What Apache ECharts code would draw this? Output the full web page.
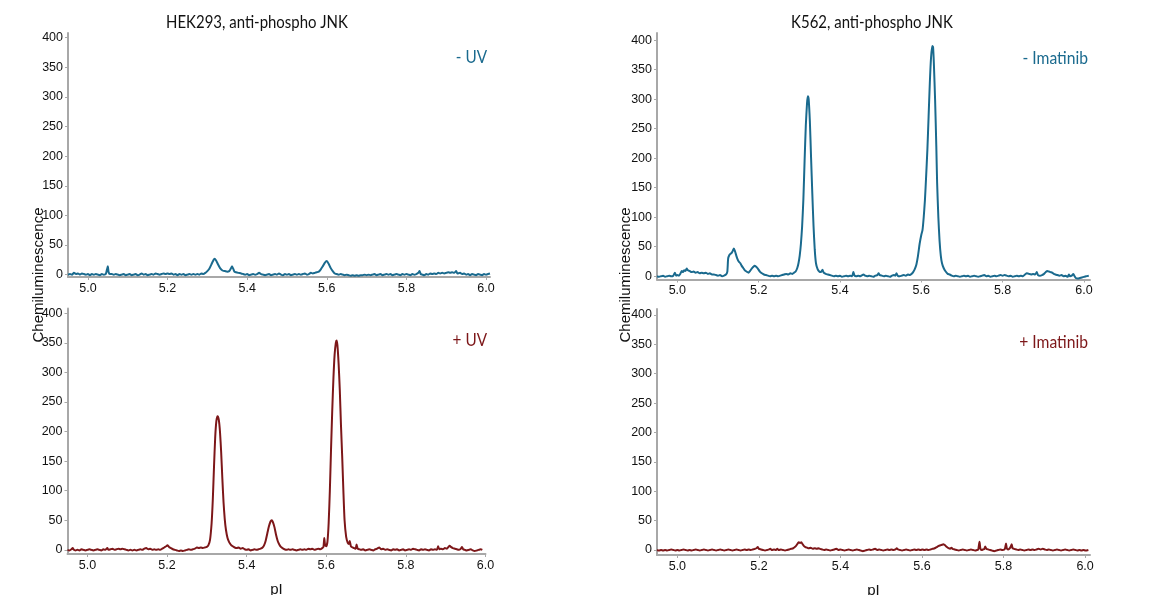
<!DOCTYPE html>
<html>
<head>
<meta charset="utf-8">
<script src="https://cdn.jsdelivr.net/npm/echarts@6/dist/echarts.min.js"></script>
<style>
  html, body { margin: 0; padding: 0; background: #fff; }
  #chart { width: 1173px; height: 595px; }
</style>
</head>
<body>
<div id="chart"></div>
<script>
// Capillary isoelectric focusing traces: [pI, chemiluminescence]
const hekMinusUV = [
  [4.950,0],[4.955,1],[4.960,0],[4.965,3],[4.970,1],[4.975,2],[4.980,0],[4.985,2],[4.990,1],[4.995,0],
  [5.000,1],[5.005,-1],[5.010,1],[5.015,0],[5.020,1],[5.025,0],[5.030,-1],[5.035,1],[5.040,0],[5.045,1],
  [5.048,9],[5.050,14],[5.052,4],[5.055,1],[5.060,1],[5.065,0],[5.070,1],[5.075,0],[5.080,-1],[5.085,0],
  [5.090,1],[5.095,-1],[5.100,0],[5.105,1],[5.110,-1],[5.115,0],[5.120,1],[5.125,-1],[5.130,0],[5.135,2],
  [5.140,0],[5.145,1],[5.150,-1],[5.155,0],[5.160,1],[5.165,0],[5.170,2],[5.175,1],[5.180,0],[5.185,1],
  [5.190,2],[5.195,1],[5.200,2],[5.205,1],[5.210,2],[5.215,0],[5.220,1],[5.225,-1],[5.230,1],[5.235,0],
  [5.240,1],[5.245,-1],[5.250,0],[5.255,1],[5.260,0],[5.265,1],[5.270,0],[5.275,1],[5.280,0],[5.285,2],
  [5.290,1],[5.295,3],[5.300,6],[5.305,10],[5.310,17],[5.315,24],[5.318,27],[5.322,24],[5.327,17],[5.332,11],
  [5.338,7],[5.344,6],[5.350,5],[5.355,6],[5.358,9],[5.362,14],[5.365,10],[5.368,5],[5.372,4],[5.378,3],
  [5.385,2],[5.390,1],[5.395,0],[5.400,1],[5.405,-1],[5.410,0],[5.415,1],[5.420,0],[5.425,1],[5.430,3],
  [5.435,1],[5.440,0],[5.445,-1],[5.450,0],[5.455,1],[5.460,-1],[5.465,0],[5.470,1],[5.475,0],[5.480,2],
  [5.485,0],[5.490,-1],[5.495,1],[5.500,0],[5.505,1],[5.510,-1],[5.515,0],[5.520,1],[5.525,0],[5.530,1],
  [5.535,0],[5.540,1],[5.545,2],[5.550,0],[5.555,1],[5.560,3],[5.565,2],[5.570,3],[5.575,4],[5.580,5],
  [5.585,9],[5.590,14],[5.595,20],[5.600,23],[5.605,18],[5.610,11],[5.615,6],[5.620,2],[5.625,1],[5.630,0],
  [5.635,1],[5.640,0],[5.645,-1],[5.650,0],[5.655,-1],[5.660,-2],[5.665,-1],[5.670,-2],[5.675,-1],[5.680,-2],
  [5.685,-1],[5.690,-1],[5.695,0],[5.700,-1],[5.705,0],[5.710,-1],[5.715,0],[5.720,1],[5.725,-1],[5.730,0],
  [5.735,1],[5.740,-1],[5.745,0],[5.750,1],[5.755,0],[5.760,1],[5.765,-1],[5.770,0],[5.775,1],[5.780,0],
  [5.785,-1],[5.790,1],[5.795,0],[5.800,1],[5.805,0],[5.810,-1],[5.815,1],[5.820,0],[5.825,1],[5.830,3],
  [5.833,6],[5.836,1],[5.840,0],[5.845,-1],[5.850,1],[5.855,0],[5.860,2],[5.865,1],[5.870,2],[5.875,1],
  [5.880,3],[5.885,2],[5.890,3],[5.895,2],[5.900,3],[5.905,4],[5.910,3],[5.915,4],[5.920,3],[5.925,6],
  [5.928,2],[5.935,3],[5.940,1],[5.945,2],[5.950,0],[5.955,1],[5.960,-1],[5.965,1],[5.970,0],[5.975,-1],
  [5.980,1],[5.985,0],[5.990,-1],[5.995,1],[6.000,0],[6.005,1],[6.010,2]
];

const hekPlusUV = [
  [4.950,0],[4.955,-1],[4.960,1],[4.963,3],[4.966,0],[4.970,-1],[4.975,0],[4.980,-1],[4.985,1],[4.990,0],
  [4.995,-1],[5.000,0],[5.005,1],[5.010,0],[5.015,-1],[5.020,0],[5.025,1],[5.030,0],[5.035,-1],[5.040,1],
  [5.045,0],[5.050,3],[5.053,0],[5.058,1],[5.063,2],[5.068,0],[5.073,1],[5.078,2],[5.083,1],[5.088,2],
  [5.093,1],[5.098,0],[5.103,-1],[5.108,0],[5.113,-1],[5.118,0],[5.123,-1],[5.128,0],[5.133,1],[5.138,0],
  [5.143,2],[5.148,3],[5.153,1],[5.158,2],[5.163,0],[5.168,1],[5.173,0],[5.178,1],[5.183,0],[5.188,2],
  [5.193,4],[5.198,6],[5.201,8],[5.205,5],[5.210,3],[5.215,1],[5.220,0],[5.225,-1],[5.230,-2],[5.235,-1],
  [5.240,-2],[5.245,-1],[5.250,0],[5.255,1],[5.260,0],[5.265,1],[5.270,2],[5.275,4],[5.280,3],[5.285,4],
  [5.290,3],[5.295,4],[5.300,5],[5.304,8],[5.308,17],[5.312,45],[5.315,85],[5.318,140],[5.321,190],[5.324,218],
  [5.327,226],[5.330,220],[5.333,200],[5.336,165],[5.339,120],[5.342,80],[5.345,52],[5.348,34],[5.352,20],[5.356,13],
  [5.360,9],[5.365,6],[5.370,4],[5.375,3],[5.380,4],[5.385,2],[5.390,3],[5.395,1],[5.400,0],[5.405,1],
  [5.410,-1],[5.415,0],[5.420,1],[5.425,0],[5.430,1],[5.435,2],[5.440,4],[5.444,8],[5.448,16],[5.452,28],
  [5.456,40],[5.460,48],[5.463,50],[5.466,47],[5.470,38],[5.474,25],[5.478,15],[5.482,9],[5.486,5],[5.490,3],
  [5.495,1],[5.500,0],[5.505,1],[5.510,0],[5.515,1],[5.520,0],[5.525,-1],[5.530,0],[5.535,1],[5.540,0],
  [5.545,1],[5.550,0],[5.555,2],[5.560,1],[5.565,2],[5.570,0],[5.575,1],[5.580,2],[5.585,1],[5.590,3],
  [5.593,5],[5.595,20],[5.597,8],[5.600,6],[5.603,14],[5.606,45],[5.609,100],[5.612,170],[5.615,235],[5.618,290],
  [5.621,330],[5.624,350],[5.626,354],[5.628,346],[5.631,315],[5.634,270],[5.637,210],[5.640,158],[5.643,100],[5.646,50],
  [5.650,22],[5.654,12],[5.657,10],[5.659,15],[5.662,6],[5.666,4],[5.670,3],[5.674,2],[5.676,9],[5.679,2],
  [5.683,1],[5.688,0],[5.693,1],[5.698,-1],[5.703,0],[5.708,1],[5.713,0],[5.718,-1],[5.723,1],[5.728,2],
  [5.733,4],[5.738,1],[5.743,2],[5.748,0],[5.753,1],[5.758,0],[5.763,-1],[5.768,1],[5.773,0],[5.778,1],
  [5.783,-1],[5.788,0],[5.793,1],[5.798,-1],[5.803,0],[5.808,1],[5.813,0],[5.818,2],[5.823,1],[5.828,0],
  [5.833,-1],[5.838,1],[5.843,0],[5.848,1],[5.853,0],[5.858,-1],[5.863,1],[5.868,0],[5.873,1],[5.878,0],
  [5.881,6],[5.884,1],[5.888,2],[5.893,1],[5.898,3],[5.903,2],[5.907,5],[5.910,7],[5.913,5],[5.918,3],
  [5.923,2],[5.928,1],[5.933,0],[5.938,2],[5.941,5],[5.944,1],[5.948,0],[5.953,-1],[5.958,0],[5.963,1],
  [5.968,-1],[5.973,-2],[5.978,-1],[5.983,0],[5.988,1],[5.992,0]
];

const k562MinusImatinib = [
  [4.950,0],[4.955,-1],[4.960,0],[4.965,1],[4.970,-1],[4.975,0],[4.980,1],[4.985,0],[4.990,1],[4.994,6],
  [4.997,1],[5.000,2],[5.004,1],[5.008,5],[5.011,9],[5.014,7],[5.017,10],[5.020,9],[5.023,13],[5.026,10],
  [5.030,9],[5.035,7],[5.040,8],[5.045,6],[5.050,7],[5.055,5],[5.060,6],[5.065,5],[5.070,6],[5.075,4],
  [5.080,5],[5.085,3],[5.090,3],[5.095,2],[5.100,1],[5.105,2],[5.110,0],[5.115,1],[5.120,3],[5.123,8],
  [5.125,30],[5.128,36],[5.131,38],[5.134,40],[5.137,44],[5.139,47],[5.142,42],[5.145,35],[5.148,29],[5.151,25],
  [5.155,22],[5.158,18],[5.162,14],[5.166,10],[5.170,8],[5.175,6],[5.179,9],[5.183,13],[5.187,16],[5.190,18],
  [5.194,16],[5.198,13],[5.203,8],[5.208,5],[5.213,3],[5.218,2],[5.223,1],[5.228,0],[5.233,1],[5.238,0],
  [5.243,1],[5.248,0],[5.253,1],[5.258,2],[5.263,3],[5.268,4],[5.273,3],[5.278,5],[5.283,4],[5.287,6],
  [5.291,8],[5.295,14],[5.298,22],[5.301,35],[5.304,55],[5.307,85],[5.310,130],[5.313,195],[5.316,255],[5.319,293],
  [5.321,305],[5.323,300],[5.326,262],[5.329,200],[5.332,140],[5.335,85],[5.338,45],[5.341,22],[5.345,12],[5.349,8],
  [5.353,7],[5.357,11],[5.360,6],[5.365,4],[5.370,3],[5.375,2],[5.380,1],[5.385,0],[5.390,1],[5.395,0],
  [5.400,1],[5.405,-1],[5.410,0],[5.415,1],[5.420,0],[5.425,1],[5.430,0],[5.433,7],[5.436,1],[5.440,0],
  [5.445,1],[5.450,0],[5.455,2],[5.458,3],[5.462,1],[5.467,0],[5.472,1],[5.477,0],[5.482,-1],[5.487,1],
  [5.492,2],[5.495,5],[5.498,2],[5.503,1],[5.508,0],[5.513,1],[5.518,0],[5.523,-1],[5.528,1],[5.533,2],
  [5.536,1],[5.539,5],[5.542,1],[5.547,0],[5.552,1],[5.557,2],[5.562,1],[5.567,3],[5.572,2],[5.576,4],
  [5.580,7],[5.584,12],[5.588,20],[5.592,35],[5.596,55],[5.600,70],[5.603,78],[5.606,100],[5.609,129],[5.612,170],
  [5.615,214],[5.618,270],[5.621,327],[5.624,370],[5.627,390],[5.629,388],[5.631,360],[5.634,299],[5.637,220],[5.639,158],
  [5.642,100],[5.645,60],[5.648,35],[5.651,22],[5.655,14],[5.660,8],[5.665,4],[5.670,3],[5.675,1],[5.680,0],
  [5.685,1],[5.690,0],[5.695,-1],[5.700,0],[5.705,1],[5.710,0],[5.715,1],[5.720,-1],[5.725,0],[5.730,1],
  [5.735,0],[5.740,-1],[5.745,0],[5.750,1],[5.755,2],[5.760,0],[5.765,1],[5.770,-1],[5.775,0],[5.780,1],
  [5.785,0],[5.790,1],[5.795,2],[5.800,1],[5.805,2],[5.810,1],[5.815,0],[5.820,1],[5.825,-1],[5.830,0],
  [5.835,1],[5.840,0],[5.845,1],[5.850,0],[5.855,3],[5.860,5],[5.865,4],[5.870,3],[5.875,4],[5.880,3],
  [5.884,7],[5.887,2],[5.892,1],[5.897,2],[5.902,4],[5.906,7],[5.910,9],[5.914,8],[5.918,7],[5.922,6],
  [5.926,4],[5.930,3],[5.935,2],[5.940,1],[5.945,2],[5.950,0],[5.955,1],[5.960,-1],[5.963,3],[5.966,0],
  [5.970,1],[5.974,4],[5.977,0],[5.980,-3],[5.985,-4],[5.990,-3],[5.995,-2],[6.000,-1],[6.005,0],[6.012,1]
];

const k562PlusImatinib = [
  [4.950,0],[4.955,-1],[4.960,0],[4.965,-1],[4.970,0],[4.975,-1],[4.980,0],[4.985,1],[4.990,0],[4.995,-1],
  [5.000,0],[5.005,-1],[5.010,0],[5.015,1],[5.020,0],[5.025,-1],[5.030,0],[5.035,-1],[5.040,0],[5.045,1],
  [5.050,0],[5.055,-1],[5.060,0],[5.065,1],[5.070,0],[5.075,-1],[5.080,0],[5.085,1],[5.090,0],[5.095,-1],
  [5.100,0],[5.105,1],[5.110,0],[5.115,-1],[5.120,0],[5.125,1],[5.130,0],[5.135,-1],[5.140,0],[5.145,1],
  [5.150,0],[5.155,-1],[5.160,0],[5.165,1],[5.170,0],[5.175,1],[5.180,0],[5.185,1],[5.190,2],[5.194,3],
  [5.197,5],[5.200,2],[5.205,1],[5.210,0],[5.215,-1],[5.220,0],[5.225,1],[5.228,2],[5.232,0],[5.237,1],
  [5.242,0],[5.245,2],[5.249,0],[5.254,1],[5.259,0],[5.264,-1],[5.269,0],[5.274,1],[5.279,2],[5.284,3],
  [5.288,5],[5.292,8],[5.295,11],[5.298,13],[5.301,12],[5.304,13],[5.307,10],[5.310,7],[5.314,5],[5.318,4],
  [5.322,3],[5.327,4],[5.332,2],[5.337,3],[5.342,2],[5.346,3],[5.350,2],[5.355,1],[5.360,0],[5.365,1],
  [5.370,0],[5.375,-1],[5.380,0],[5.385,1],[5.390,2],[5.395,0],[5.400,1],[5.405,0],[5.410,-1],[5.415,0],
  [5.420,1],[5.425,0],[5.430,-1],[5.435,0],[5.440,1],[5.445,0],[5.450,-1],[5.455,-2],[5.460,-1],[5.465,0],
  [5.470,1],[5.475,0],[5.480,1],[5.485,2],[5.490,0],[5.495,1],[5.500,0],[5.505,-1],[5.510,0],[5.515,1],
  [5.520,0],[5.525,1],[5.530,0],[5.535,1],[5.538,3],[5.541,1],[5.546,0],[5.551,-1],[5.556,0],[5.561,1],
  [5.566,0],[5.571,-1],[5.576,0],[5.581,1],[5.586,0],[5.591,1],[5.596,0],[5.601,1],[5.606,0],[5.611,1],
  [5.616,0],[5.621,1],[5.626,2],[5.631,3],[5.636,5],[5.641,7],[5.645,8],[5.649,9],[5.652,10],[5.655,9],
  [5.658,7],[5.661,5],[5.665,3],[5.669,2],[5.672,4],[5.675,2],[5.680,1],[5.685,0],[5.690,-1],[5.695,0],
  [5.700,1],[5.705,0],[5.710,-1],[5.715,0],[5.720,1],[5.725,0],[5.730,-1],[5.735,0],[5.738,1],[5.741,14],
  [5.743,3],[5.746,0],[5.750,1],[5.753,2],[5.755,6],[5.758,2],[5.762,1],[5.767,0],[5.772,-1],[5.777,-2],
  [5.782,-1],[5.787,0],[5.792,1],[5.797,0],[5.802,1],[5.804,4],[5.806,11],[5.808,3],[5.811,1],[5.814,2],
  [5.817,5],[5.820,10],[5.822,3],[5.826,2],[5.831,1],[5.836,0],[5.841,1],[5.846,0],[5.851,-1],[5.856,0],
  [5.861,1],[5.866,0],[5.871,1],[5.876,0],[5.881,1],[5.886,2],[5.891,1],[5.896,2],[5.901,1],[5.906,0],
  [5.911,1],[5.916,0],[5.921,-1],[5.926,0],[5.931,1],[5.936,0],[5.941,-1],[5.946,0],[5.951,1],[5.956,0],
  [5.961,-1],[5.966,0],[5.971,1],[5.976,0],[5.981,-1],[5.986,0],[5.991,-1],[5.996,0],[6.001,-1],[6.008,0]
];

// Tick labels
const yTicks = [0, 50, 100, 150, 200, 250, 300, 350, 400];
const xTicks = [5.0, 5.2, 5.4, 5.6, 5.8, 6.0];

const panelTitles = ['HEK293, anti-phospho JNK', 'K562, anti-phospho JNK'];
const conditionLabels = ['- UV', '+ UV', '- Imatinib', '+ Imatinib'];
const yAxisTitle = 'Chemiluminescence';
const xAxisTitle = 'pI';

const BLUE = '#1a6a8e';
const RED = '#7d1719';
const AXIS_GRAY = '#a8a8a8';
const LABEL_COLOR = '#111';
const LABEL_FONT = '"Liberation Sans", Arial, sans-serif';
const TITLE_FONT = 'Lato, "Open Sans", sans-serif';

// Panel frames (pixels) and axis ranges
const panels = [
  { grid: { left: 68, top: 33, width: 422, height: 244 }, x: [4.95, 6.01], y: [-4, 408], data: hekMinusUV, color: BLUE, xName: false },
  { grid: { left: 67.5, top: 308.5, width: 418, height: 245.5 }, x: [4.95, 6.0], y: [-7, 408], data: hekPlusUV, color: RED, xName: true },
  { grid: { left: 657, top: 33, width: 433, height: 246.5 }, x: [4.95, 6.015], y: [-5.5, 412], data: k562MinusImatinib, color: BLUE, xName: false },
  { grid: { left: 657, top: 309, width: 433, height: 246 }, x: [4.95, 6.012], y: [-8.5, 410], data: k562PlusImatinib, color: RED, xName: true }
];

const chart = echarts.init(document.getElementById('chart'), null, { renderer: 'canvas' });

// Text drawn with a slight horizontal squeeze to get a narrow humanist look
function label(text, x, y, size, color, align, squeeze) {
  return {
    type: 'text', x: x, y: y, scaleX: squeeze, scaleY: 1,
    style: { text: text, font: size + 'px ' + TITLE_FONT, fill: color, align: align, verticalAlign: 'middle' }
  };
}

const option = {
  animation: false,
  backgroundColor: '#fff',
  grid: panels.map(p => Object.assign({ outerBoundsMode: 'none', containLabel: false }, p.grid)),
  xAxis: panels.map((p, i) => ({
    type: 'value',
    gridIndex: i,
    min: p.x[0],
    max: p.x[1],
    splitLine: { show: false },
    axisLine: { show: true, onZero: false, lineStyle: { color: AXIS_GRAY, width: 2 } },
    axisTick: { show: true, length: 3, customValues: xTicks, lineStyle: { color: AXIS_GRAY, width: 1 } },
    axisLabel: {
      customValues: xTicks,
      formatter: v => v.toFixed(1),
      color: LABEL_COLOR, fontSize: 12.5, fontFamily: LABEL_FONT, margin: 5
    },
    name: p.xName ? xAxisTitle : '',
    nameLocation: 'middle',
    nameGap: 28,
    nameTextStyle: { color: LABEL_COLOR, fontSize: 15, fontFamily: LABEL_FONT }
  })),
  yAxis: panels.map((p, i) => ({
    type: 'value',
    gridIndex: i,
    min: p.y[0],
    max: p.y[1],
    splitLine: { show: false },
    axisLine: { show: true, onZero: false, lineStyle: { color: AXIS_GRAY, width: 2 } },
    axisTick: { show: true, length: 3, customValues: yTicks, lineStyle: { color: AXIS_GRAY, width: 1 } },
    axisLabel: {
      customValues: yTicks,
      color: LABEL_COLOR, fontSize: 12.5, fontFamily: LABEL_FONT, margin: 5
    }
  })),
  series: panels.map((p, i) => ({
    type: 'line',
    xAxisIndex: i,
    yAxisIndex: i,
    data: p.data,
    showSymbol: false,
    smooth: 0.2,
    lineStyle: { color: p.color, width: 2 },
    itemStyle: { color: p.color }
  })),
  graphic: [
    label(panelTitles[0], 257, 22, 18, '#111', 'center', 0.83),
    label(panelTitles[1], 872, 22, 18, '#111', 'center', 0.83),
    label(conditionLabels[0], 487, 57, 18, BLUE, 'right', 0.85),
    label(conditionLabels[1], 487, 340, 18, RED, 'right', 0.85),
    label(conditionLabels[2], 1088, 58, 18, BLUE, 'right', 0.87),
    label(conditionLabels[3], 1088, 342, 18, RED, 'right', 0.87),
    { type: 'text', x: 39, y: 275, rotation: Math.PI / 2, style: { text: yAxisTitle, font: '15px ' + LABEL_FONT, fill: LABEL_COLOR, align: 'center', verticalAlign: 'middle' } },
    { type: 'text', x: 626, y: 275, rotation: Math.PI / 2, style: { text: yAxisTitle, font: '15px ' + LABEL_FONT, fill: LABEL_COLOR, align: 'center', verticalAlign: 'middle' } }
  ]
};

chart.setOption(option);
</script>
</body>
</html>
